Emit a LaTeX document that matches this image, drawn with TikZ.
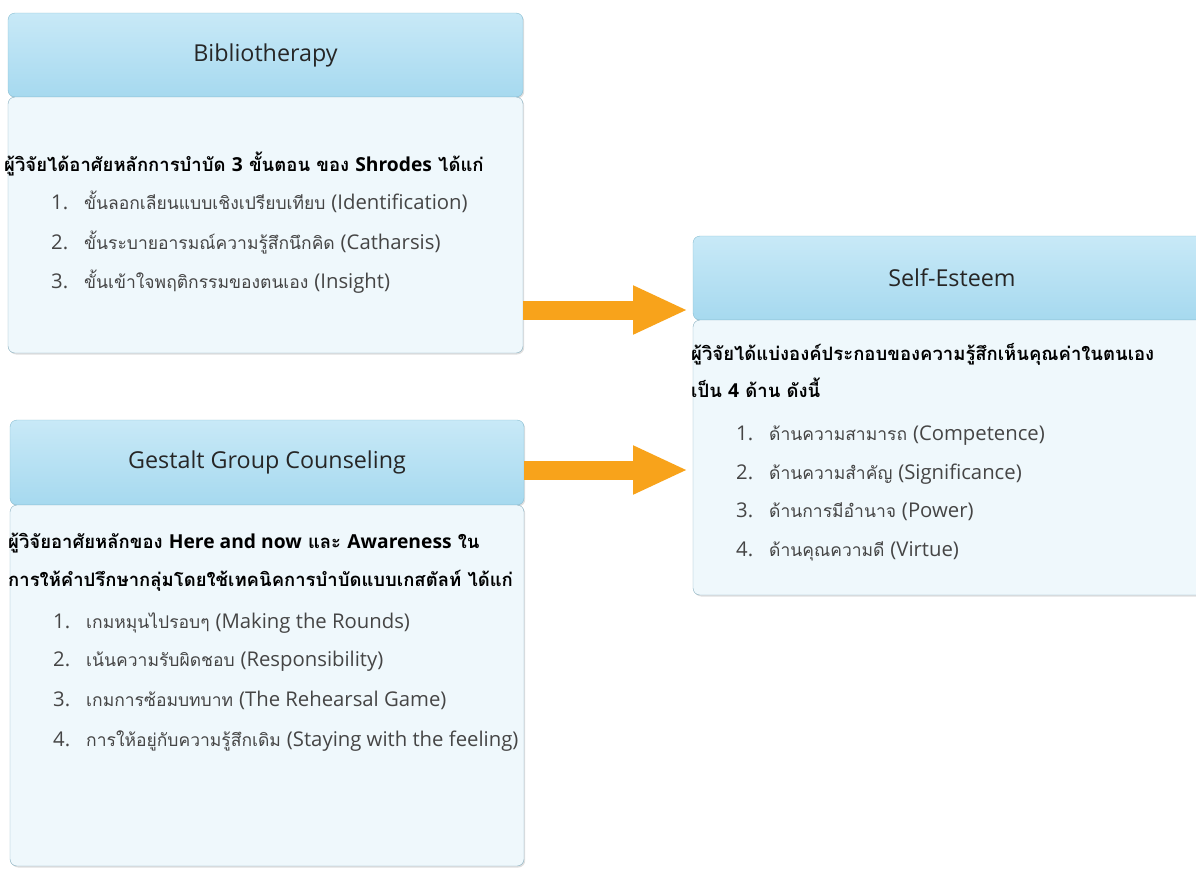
\documentclass[tikz,border=0pt]{standalone}
\usepackage{fontspec}
\setmainfont[Script=Thai]{Loma}
\newfontfamily\lat[Scale=1.16]{Open Sans}
\newfontfamily\latb[Scale=1.04]{Open Sans}
\newfontfamily\headfont{Open Sans}
\usetikzlibrary{positioning,arrows.meta,shadows}
\definecolor{headtop}{HTML}{C8E9F7}
\definecolor{headbot}{HTML}{A6D9EF}
\definecolor{headline}{HTML}{86BCD0}
\definecolor{bodyfill}{HTML}{EFF8FC}
\definecolor{bodyline}{HTML}{86AEBE}
\definecolor{headtext}{HTML}{262626}
\definecolor{itemgray}{HTML}{454545}
\definecolor{arroworange}{HTML}{F8A31B}

\begin{document}
\begin{tikzpicture}[x=1pt,y=-1pt]
	\tikzset{headbox/.style={rounded corners=7pt,draw=headline,top color=headtop,bottom color=headbot,
			minimum height=84pt,inner sep=0pt,outer sep=0pt,text=headtext,font=\headfont\fontsize{23.3}{27}\selectfont,
			drop shadow={shadow xshift=1.2pt,shadow yshift=-1.5pt,opacity=0.25}},
		bodybox/.style={rounded corners=7pt,draw=bodyline,fill=bodyfill,inner sep=0pt,outer sep=0pt,
			drop shadow={shadow xshift=1.2pt,shadow yshift=-1.5pt,opacity=0.25}},
		leadtext/.style={anchor=base west,inner sep=0pt,font=\fontsize{18.5}{22}\selectfont\bfseries},
		itemtext/.style={anchor=base west,inner sep=0pt,text=itemgray,font=\fontsize{17.5}{22}\selectfont},
		fatarrow/.style={line width=19pt,draw=arroworange,-{Triangle[length=55pt,width=45pt]}}}
	\def\en#1{{\lat #1}}% latin words
	\def\enb#1{{\latb #1}}% latin words in the bold lines
	\def\numx{43} \def\txtx{76}% indents of the list from the box edge
	\useasboundingbox (0,0) rectangle (1196,868);
	% Bibliotherapy
	\node[headbox,minimum width=515pt] (bibhead) at (265.5,55) {Bibliotherapy};
	\node[bodybox,minimum width=515pt,minimum height=256pt,below=0pt of bibhead] (bibbody) {};
	\node[leadtext] (biblead) at (4,171) {ผู้วิจัยได้อาศัยหลักการบำบัด \enb{3} ขั้นตอน ของ \enb{Shrodes} ได้แก่};
	\foreach \n/\y/\t in {1/209/{ขั้นลอกเลียนแบบเชิงเปรียบเทียบ \en{(Identification)}},
		2/249/{ขั้นระบายอารมณ์ความรู้สึกนึกคิด \en{(Catharsis)}},
		3/288/{ขั้นเข้าใจพฤติกรรมของตนเอง \en{(Insight)}}}{
		\node[itemtext] (bibnum\n) at (8+\numx,\y) {\en{\n.}};
		\node[itemtext] (bibitem\n) at (8+\txtx,\y) {\t};
	}
	% Gestalt Group Counseling
	\node[headbox,minimum width=514pt,minimum height=85pt] (gesthead) at (267,462.5) {Gestalt Group Counseling};
	\node[bodybox,minimum width=514pt,minimum height=361pt,below=0pt of gesthead] (gestbody) {};
	\node[leadtext] (gestleadA) at (8,548) {ผู้วิจัยอาศัยหลักของ \enb{Here and now} และ \enb{Awareness} ใน};
	\node[leadtext] (gestleadB) at (8,586) {การให้คำปรึกษากลุ่มโดยใช้เทคนิคการบำบัดแบบเกสตัลท์ ได้แก่};
	\foreach \n/\y/\t in {1/628/{เกมหมุนไปรอบๆ \en{(Making the Rounds)}},
		2/666/{เน้นความรับผิดชอบ \en{(Responsibility)}},
		3/706/{เกมการซ้อมบทบาท \en{(The Rehearsal Game)}},
		4/746/{การให้อยู่กับความรู้สึกเดิม \en{(Staying with the feeling)}}}{
		\node[itemtext] (gestnum\n) at (10+\numx,\y) {\en{\n.}};
		\node[itemtext] (gestitem\n) at (10+\txtx,\y) {\t};
	}
	% Self-Esteem
	\node[headbox,minimum width=518pt] (selfhead) at (952,278) {Self-Esteem};
	\node[bodybox,minimum width=518pt,minimum height=275pt,below=0pt of selfhead] (selfbody) {};
	\node[leadtext] (selfleadA) at (691,360) {ผู้วิจัยได้แบ่งองค์ประกอบของความรู้สึกเห็นคุณค่าในตนเอง};
	\node[leadtext] (selfleadB) at (691,397) {เป็น \enb{4} ด้าน ดังนี้};
	\foreach \n/\y/\t in {1/440/{ด้านความสามารถ \en{(Competence)}},
		2/479/{ด้านความสำคัญ \en{(Significance)}},
		3/517/{ด้านการมีอำนาจ \en{(Power)}},
		4/556/{ด้านคุณความดี \en{(Virtue)}}}{
		\node[itemtext] (selfnum\n) at (693+\numx,\y) {\en{\n.}};
		\node[itemtext] (selfitem\n) at (693+\txtx,\y) {\t};
	}
	% arrows into Self-Esteem
	\coordinate (tipA) at (688,310);
	\coordinate (tipB) at (688,470);
	\draw[fatarrow] (bibbody.east |- tipA) -- (tipA);
	\draw[fatarrow] (gesthead.east |- tipB) -- (tipB);
\end{tikzpicture}
\end{document}
